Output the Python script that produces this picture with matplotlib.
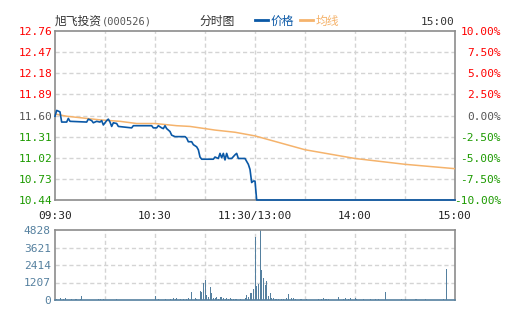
import matplotlib
matplotlib.use("Agg")
import matplotlib.pyplot as plt
from matplotlib.ticker import FixedLocator, NullLocator

# ---- data -------------------------------------------------------------
stock_name = "旭飞投资"
stock_code = "(000526)"
prev_close = 11.60

price_ticks = [10.44, 10.73, 11.02, 11.31, 11.60, 11.89, 12.18, 12.47, 12.76]
pct_ticks = [-10.0, -7.5, -5.0, -2.5, 0.0, 2.5, 5.0, 7.5, 10.0]
vol_ticks = [0, 1207, 2414, 3621, 4828]

time_tick_minutes = [0, 60, 120, 180, 240]
time_tick_labels = ["09:30", "10:30", "11:30/13:00", "14:00", "15:00"]

# minute-of-session / price pairs for the price line
price_minutes = [0, 1, 2, 3, 4, 7, 8, 9, 19, 20, 22, 23, 25, 27, 28, 29, 31, 32,
                 33, 34, 35, 37, 38, 46, 47, 58, 59, 61, 62, 64, 65, 66, 67,
                 69, 70, 72, 78, 79, 80, 82, 83, 85, 86, 87, 88, 95, 96, 98,
                 99, 100, 101, 102, 103, 104, 106, 108, 109, 110, 114, 116,
                 117, 118, 119, 120, 121, 240]
price_values = [11.59, 11.67, 11.66, 11.65, 11.51, 11.51, 11.56, 11.52, 11.51,
                11.55, 11.53, 11.50, 11.52, 11.51, 11.53, 11.47, 11.53, 11.55,
                11.51, 11.45, 11.50, 11.49, 11.45, 11.43, 11.46, 11.46, 11.43,
                11.43, 11.46, 11.43, 11.42, 11.46, 11.42, 11.38, 11.33, 11.31,
                11.31, 11.29, 11.24, 11.24, 11.20, 11.17, 11.13, 11.03, 11.00,
                11.00, 11.03, 11.01, 11.08, 11.02, 11.08, 10.99, 11.08, 11.01,
                11.01, 11.06, 11.08, 11.01, 11.01, 10.93, 10.86, 10.68, 10.70,
                10.70, 10.44, 10.44]

# average-price line
avg_minutes = [0, 7, 27, 39, 49, 60, 73, 81, 87, 96, 108, 120, 150, 180, 210, 240]
avg_values = [11.62, 11.59, 11.54, 11.52, 11.49, 11.49, 11.46, 11.45, 11.43,
              11.40, 11.37, 11.32, 11.13, 11.01, 10.93, 10.87]

# traded volume per minute (lots)
vol_minutes = [1, 3, 5, 6, 10, 12, 13, 15, 16, 26, 27, 29, 37, 60, 62, 66, 69,
               71, 72, 73, 75, 77, 79, 80, 82, 84, 85, 87, 88, 89, 90, 91, 92,
               93, 94, 95, 96, 97, 98, 99, 100, 101, 102, 103, 104, 105, 106,
               107, 108, 109, 111, 114, 115, 116, 117, 118, 119, 120, 121, 122,
               123, 124, 125, 126, 127, 128, 129, 130, 131, 132, 133, 134, 136,
               137, 139, 140, 142, 143, 144, 147, 148, 151, 158, 160, 161, 162,
               163, 164, 170, 173, 174, 176, 177, 180, 181, 185, 189, 192, 194,
               198, 208, 210, 216, 217, 222, 233, 235, 240]
vol_values = [90, 140, 70, 140, 90, 70, 90, 90, 280, 90, 90, 70, 70, 280, 70,
              70, 70, 140, 70, 140, 70, 70, 70, 140, 552, 140, 70, 643, 552,
              1195, 1380, 345, 230, 920, 483, 160, 160, 207, 90, 207, 207, 140,
              70, 140, 90, 140, 90, 70, 70, 70, 70, 115, 345, 230, 483, 483,
              760, 4370, 966, 1080, 4828, 2070, 1540, 1035, 1310, 276, 483, 115,
              160, 70, 70, 70, 70, 70, 115, 414, 140, 140, 70, 70, 70, 70, 70,
              70, 140, 70, 70, 70, 207, 90, 140, 90, 140, 140, 70, 70, 70, 70,
              70, 575, 70, 70, 70, 70, 70, 70, 2160, 70]

# ---- style ------------------------------------------------------------
W, H = 505, 330
RED = "#ff0000"
GREEN = "#1c9a00"
NEUTRAL = "#555555"
PRICE_COLOR = "#0a58a6"
AVG_COLOR = "#f5b36c"
VOL_COLOR = "#55809f"
GRID = "#d4d4d4"
FRAME = "#8c8c8c"
MONO = "DejaVu Sans Mono"
CJK = ["Noto Sans CJK SC", "DejaVu Sans"]


def fx(px):
    return px / W


def fy(py):
    return 1 - py / H


def tone(v, ref):
    if abs(v - ref) < 1e-9:
        return NEUTRAL
    return RED if v > ref else GREEN


fig = plt.figure(figsize=(W / 100, H / 100), dpi=100)
fig.patch.set_facecolor("white")

ax = fig.add_axes([fx(55), fy(200), fx(455) - fx(55), fy(31) - fy(200)])
axv = fig.add_axes([fx(55), fy(300), fx(455) - fx(55), fy(230) - fy(300)])

grid_kw = dict(color=GRID, linewidth=1.0, linestyle=(0, (3, 2)))

# ---- price panel ------------------------------------------------------
ax.set_xlim(0, 240)
ax.set_ylim(price_ticks[0], price_ticks[-1])
for m in range(30, 240, 30):
    ax.axvline(m, zorder=0, **grid_kw)
for p in price_ticks[1:-1]:
    ax.axhline(p, zorder=0, **grid_kw)

ax.yaxis.set_major_locator(FixedLocator(price_ticks))
ax.set_yticklabels([f"{p:.2f}" for p in price_ticks], fontfamily=MONO,
                   fontsize=8)
for lbl, p in zip(ax.get_yticklabels(), price_ticks):
    lbl.set_color(tone(p, prev_close))
ax.tick_params(axis="y", length=0, pad=2)

ax.xaxis.set_major_locator(FixedLocator(time_tick_minutes))
ax.set_xticklabels(time_tick_labels, fontfamily=MONO, fontsize=8,
                   color="#222222")
ax.tick_params(axis="x", length=0, pad=8)

axr = ax.twinx()
axr.set_ylim(pct_ticks[0], pct_ticks[-1])
axr.yaxis.set_major_locator(FixedLocator(pct_ticks))
axr.set_yticklabels([f"{p:.2f}%" for p in pct_ticks], fontfamily=MONO,
                    fontsize=8, ha="right")
for lbl, p in zip(axr.get_yticklabels(), pct_ticks):
    lbl.set_color(tone(p, 0.0))
axr.tick_params(axis="y", length=0, pad=33)
for s in axr.spines.values():
    s.set_visible(False)

for s in ax.spines.values():
    s.set_color(FRAME)
    s.set_linewidth(1.2)
    s.set_zorder(1)

# lines go on the twin axes so they sit above the frame
axr.plot(avg_minutes, [ (v / prev_close - 1) * 100 for v in avg_values ],
         color=AVG_COLOR, linewidth=1.1, zorder=2)
axr.plot(price_minutes, [(v / prev_close - 1) * 100 for v in price_values],
         color=PRICE_COLOR, linewidth=1.2, zorder=3, clip_on=False)
axr.set_xlim(0, 240)

# ---- volume panel -----------------------------------------------------
axv.set_xlim(0, 240)
axv.set_ylim(0, vol_ticks[-1])
for m in range(30, 240, 30):
    axv.axvline(m, zorder=0, **grid_kw)
for v in vol_ticks[1:-1]:
    axv.axhline(v, zorder=0, **grid_kw)
axv.bar(vol_minutes, vol_values, width=0.6, color=VOL_COLOR, linewidth=0,
        zorder=2)
axv.yaxis.set_major_locator(FixedLocator(vol_ticks))
axv.set_yticklabels([str(v) for v in vol_ticks], fontfamily=MONO, fontsize=8,
                    color=VOL_COLOR)
axv.tick_params(axis="y", length=0, pad=3)
axv.xaxis.set_major_locator(NullLocator())
for name, s in axv.spines.items():
    s.set_color(FRAME)
    s.set_linewidth(1.2)
axv.spines["bottom"].set_color(VOL_COLOR)

# ---- header -----------------------------------------------------------
fig.text(fx(55), fy(21), stock_name, family=CJK, fontsize=8.5,
         color="#333333", va="center", ha="left")
fig.text(fx(102), fy(21), stock_code, family=MONO, fontsize=7.5,
         color="#555555", va="center", ha="left")
fig.text(fx(217), fy(21), "分时图", family=CJK, fontsize=8.5,
         color="#333333", va="center", ha="center")
fig.add_artist(plt.Line2D([fx(255), fx(268)], [fy(20), fy(20)],
                          color=PRICE_COLOR, linewidth=2))
fig.text(fx(271), fy(21), "价格", family=CJK, fontsize=8.5,
         color=PRICE_COLOR, va="center", ha="left")
fig.add_artist(plt.Line2D([fx(300), fx(313)], [fy(20), fy(20)],
                          color=AVG_COLOR, linewidth=2))
fig.text(fx(316), fy(21), "均线", family=CJK, fontsize=8.5,
         color=AVG_COLOR, va="center", ha="left")
fig.text(fx(454), fy(22), "15:00", family=MONO, fontsize=8,
         color="#333333", va="center", ha="right")

fig.savefig("out.png", dpi=100)
